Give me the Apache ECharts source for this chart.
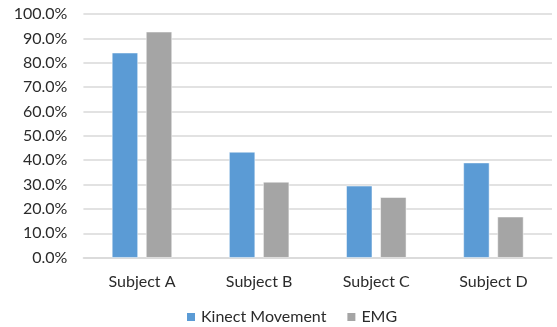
<!DOCTYPE html>
<html>
<head>
<meta charset="utf-8">
<script src="https://cdn.jsdelivr.net/npm/echarts@6/dist/echarts.min.js"></script>
<style>
  html, body { margin: 0; padding: 0; background: #fff; }
  #chart { width: 557px; height: 327px; }
</style>
</head>
<body>
<div id="chart"></div>
<script>
// Subjects along the x axis
const subjects = ['Subject A', 'Subject B', 'Subject C', 'Subject D'];
// Accuracy per subject, in percent
const kinectMovement = [84.1, 43.4, 29.5, 39.0];
const emg = [92.7, 31.1, 24.8, 16.8];
const seriesNames = ['Kinect Movement', 'EMG'];

const FONT = 'Lato';
const TEXT = '#2b2b2b';
const chart = echarts.init(document.getElementById('chart'), null, { renderer: 'canvas' });

chart.setOption({
  animation: false,
  backgroundColor: '#ffffff',
  grid: { left: 83.4, right: 5, top: 14, bottom: 69.3, containLabel: false },
  legend: {
    left: 185,
    top: 309,
    padding: 0,
    itemWidth: 10,
    itemHeight: 10,
    itemGap: 19,
    icon: 'rect',
    textStyle: { fontFamily: FONT, fontSize: 16, color: TEXT },
    data: seriesNames
  },
  xAxis: {
    type: 'category',
    data: subjects,
    axisLine: { lineStyle: { color: '#D9D9D9', width: 1.5 } },
    axisTick: { show: false },
    axisLabel: { fontFamily: FONT, fontSize: 16, color: TEXT, margin: 16 }
  },
  yAxis: {
    type: 'value',
    min: 0,
    max: 100,
    interval: 10,
    axisLine: { show: false },
    axisTick: { show: false },
    splitLine: { lineStyle: { color: '#D9D9D9', width: 1.5 } },
    axisLabel: {
      fontFamily: FONT, fontSize: 16, color: TEXT, margin: 16,
      formatter: v => v.toFixed(1) + '%'
    }
  },
  series: [
    {
      name: seriesNames[0],
      type: 'bar',
      data: kinectMovement,
      barWidth: 26,
      barGap: '31%',
      itemStyle: { color: '#5B9BD5', borderColor: '#ffffff', borderWidth: 0.5 }
    },
    {
      name: seriesNames[1],
      type: 'bar',
      data: emg,
      barWidth: 26,
      barGap: '31%',
      itemStyle: { color: '#A5A5A5', borderColor: '#ffffff', borderWidth: 0.5 }
    }
  ]
});
</script>
</body>
</html>
